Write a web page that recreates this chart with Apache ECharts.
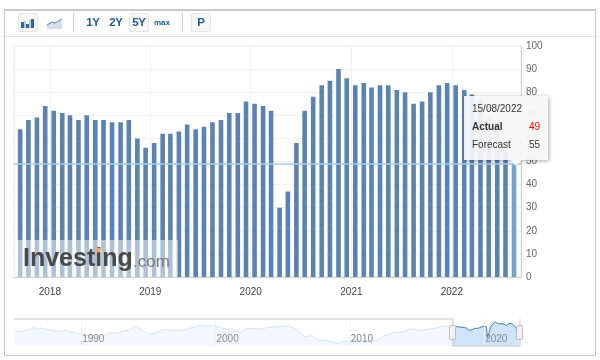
<!DOCTYPE html>
<html>
<head>
<meta charset="utf-8">
<script src="https://cdn.jsdelivr.net/npm/echarts@6/dist/echarts.min.js"></script>
<style>
html, body { margin: 0; padding: 0; background: #fff; }
.wrap { position: relative; width: 600px; height: 360px; overflow: hidden; font-family: "Liberation Sans", Arial, sans-serif; }
.frame { position: absolute; left: 4px; top: 9px; width: 590px; height: 344px; border: 1px solid #c8c8c8; border-top-width: 2px; box-sizing: content-box; }
.bar_line { position: absolute; left: 5px; top: 36px; width: 590px; height: 1px; background: #e2e2e2; }
#chart { position: absolute; left: 0; top: 0; width: 600px; height: 360px; }
.btn { position: absolute; top: 13px; height: 19px; line-height: 19px; text-align: center; color: #1f5a94; font-size: 11.5px; letter-spacing: -0.3px; font-weight: bold; box-sizing: border-box; }
.btn.on { border: 1px solid #e4e4e4; border-radius: 2px; background: #f7f7f7; line-height: 17px; }
.sep { position: absolute; top: 13px; width: 1px; height: 19px; background: #d4d4d4; }
.ico { position: absolute; }
</style>
</head>
<body>
<div class="wrap">
  <div class="frame"></div>
  <div class="bar_line"></div>
  <div id="chart"></div>
  <div class="btn on" style="left:18px;width:20px"></div>
  <svg class="ico" style="left:20px;top:17px" width="16" height="12"><path d="M1 5h3v6H1zM6 7h3v4H6zM11 2h3v9h-3z" fill="#2f6797"/><path d="M4.500 4h1v7h-1zM9.500 3h1v8h-1z" fill="#7f9fbc"/></svg>
  <svg class="ico" style="left:46px;top:17px" width="18" height="13"><path d="M1 8L6 5L9 6L16 2V12H1Z" fill="#d3deea"/><path d="M1 8L6 5L9 6L16 2" fill="none" stroke="#4f83b5" stroke-width="1"/></svg>
  <div class="sep" style="left:73px"></div>
  <div class="btn" style="left:83px;width:20px">1Y</div>
  <div class="btn" style="left:106px;width:20px">2Y</div>
  <div class="btn on" style="left:129px;width:20px">5Y</div>
  <div class="btn" style="left:152px;width:20px;font-size:8px;letter-spacing:0">max</div>
  <div class="sep" style="left:182px"></div>
  <div class="btn on" style="left:191px;width:20px">P</div>
</div>
<script>
const months = [
  '2017-09-15', '2017-10-15', '2017-11-15', '2017-12-15',
  '2018-01-15', '2018-02-15', '2018-03-15', '2018-04-15', '2018-05-15', '2018-06-15', '2018-07-15', '2018-08-15', '2018-09-15', '2018-10-15', '2018-11-15', '2018-12-15',
  '2019-01-15', '2019-02-15', '2019-03-15', '2019-04-15', '2019-05-15', '2019-06-15', '2019-07-15', '2019-08-15', '2019-09-15', '2019-10-15', '2019-11-15', '2019-12-15',
  '2020-01-15', '2020-02-15', '2020-03-15', '2020-04-15', '2020-05-15', '2020-06-15', '2020-07-15', '2020-08-15', '2020-09-15', '2020-10-15', '2020-11-15', '2020-12-15',
  '2021-01-15', '2021-02-15', '2021-03-15', '2021-04-15', '2021-05-15', '2021-06-15', '2021-07-15', '2021-08-15', '2021-09-15', '2021-10-15', '2021-11-15', '2021-12-15',
  '2022-01-15', '2022-02-15', '2022-03-15', '2022-04-15', '2022-05-15', '2022-06-15', '2022-07-15', '2022-08-15',
];
const actual = [
  64, 68, 69, 74,
  72, 71, 70, 68, 70, 68, 68, 67, 67, 68, 60, 56,
  58, 62, 62, 63, 66, 64, 65, 67, 68, 71, 71, 76,
  75, 74, 72, 30, 37, 58, 72, 78, 83, 85, 90, 86,
  83, 84, 82, 83, 83, 81, 80, 75, 76, 80, 83, 84,
  83, 81, 79, 77, 69, 67, 55, 49,
];
// navigator history, before the 5Y window
const historyDates = [
  '1985-02', '1985-06', '1985-11', '1986-03', '1986-06', '1986-10', '1987-01', '1987-06', '1987-12', '1988-05', '1988-12', '1989-04', '1989-07',
  '1989-12', '1990-05', '1991-01', '1991-10', '1992-02', '1992-10', '1993-03', '1993-08', '1994-01', '1994-08', '1995-03', '1995-09', '1996-04',
  '1996-12', '1997-09', '1998-04', '1999-01', '1999-05', '1999-10', '2000-08', '2001-04', '2001-12', '2002-04', '2002-12', '2003-05', '2004-01',
  '2005-06', '2006-01', '2006-09', '2007-03', '2007-10', '2008-04', '2009-01', '2009-09', '2010-04', '2012-01', '2012-07', '2013-04', '2014-01',
  '2014-07', '2015-03', '2016-03', '2017-03', '2017-09',
];
const historyValues = [
  58, 52, 58, 62, 68, 62, 67, 62, 56, 54, 58, 49, 52,
  44, 39, 37, 37, 48, 49, 57, 58, 74, 58, 42, 52, 62,
  58, 60, 68, 79, 74, 76, 64, 62, 49, 64, 64, 62, 70,
  74, 64, 33, 39, 21, 21, 9, 17, 21, 21, 37, 49, 52,
  64, 58, 64, 74, 64,
];
const navTicks = [1990, 2000, 2010, 2020];
const tipDate = '15/08/2022';
const tipActual = 49;
const tipForecast = 55;

const myChart = echarts.init(document.getElementById('chart'));
const YEAR = 3600 * 24 * 1000 * 365;
const lastIndex = actual.length - 1;
// '2017-09-15' -> 2017.7, the navigator runs on a plain year scale
const toYear = (d) => {
  const p = d.split('-');
  return Number(p[0]) + (Number(p[1]) - 1) / 12;
};

const barData = months.map((m, i) => ({
  value: [m, actual[i]],
  itemStyle: { color: i === lastIndex ? '#77a2cf' : '#5b83b1' },
}));

const option = {
  animation: false,
  textStyle: { fontFamily: '"Liberation Sans", Arial, sans-serif' },
  grid: [
    { left: 14, right: 79, top: 46, height: 231, show: true, borderColor: '#efefef', borderWidth: 1 },
    { left: 14, right: 80, top: 319, height: 27 },
  ],
  xAxis: [
    {
      type: 'time',
      gridIndex: 0,
      min: '2017-09-01',
      max: '2022-09-01',
      minInterval: YEAR,
      axisLine: { onZero: false, lineStyle: { color: '#cfcfcf', width: 1 } },
      axisTick: { show: false },
      axisLabel: {
        color: '#444',
        fontSize: 10,
        margin: 10,
        showMinLabel: false,
        showMaxLabel: false,
        formatter: (v) => String(new Date(v).getFullYear()),
      },
      splitLine: { show: true, lineStyle: { color: '#f0f0f0' } },
    },
    {
      type: 'value',
      gridIndex: 1,
      z: 10,
      min: 1985,
      max: 2022.67,
      axisLine: { show: false },
      axisTick: { show: false, customValues: navTicks },
      axisLabel: {
        inside: true,
        color: '#888',
        fontSize: 10,
        margin: 2,
        align: 'left',
        padding: [0, 0, 0, 1],
        customValues: navTicks,
        formatter: (v) => String(v),
      },
      splitLine: { show: true, lineStyle: { color: '#eef1f5' } },
    },
  ],
  yAxis: [
    {
      type: 'value',
      gridIndex: 0,
      position: 'right',
      min: 0,
      max: 100,
      interval: 10,
      axisLine: { show: true, lineStyle: { color: '#cfcfcf', width: 1 } },
      axisTick: { show: false },
      axisLabel: { color: '#666', fontSize: 10, margin: 5 },
      splitLine: { lineStyle: { color: '#f2f2f2' } },
    },
    { type: 'value', gridIndex: 1, min: 0, max: 100, show: false, splitLine: { show: false } },
  ],
  tooltip: {
    trigger: 'item',
    alwaysShowContent: true,
    transitionDuration: 0,
    backgroundColor: 'rgba(246,246,246,0.93)',
    borderWidth: 0,
    padding: 0,
    extraCssText: 'box-shadow:1px 1px 4px rgba(0,0,0,0.35);border-radius:0;',
    position: [464, 96],
    formatter: () => `
      <div style="position:relative;width:84px;height:64px;font-size:10px;line-height:18px;color:#333;box-sizing:border-box;padding:4px 8px;">
        <div>${tipDate}</div>
        <div style="display:flex;justify-content:space-between"><b>Actual</b><b style="color:#f00;font-weight:normal">${tipActual}</b></div>
        <div style="display:flex;justify-content:space-between"><span>Forecast</span><span>${tipForecast}</span></div>
        <div style="position:absolute;left:48px;bottom:-4px;width:8px;height:8px;background:#f6f6f6;transform:rotate(45deg)"></div>
      </div>`,
  },
  series: [
    {
      type: 'bar',
      xAxisIndex: 0,
      yAxisIndex: 0,
      barWidth: 4.6,
      data: barData,
      emphasis: { disabled: true },
      markLine: {
        silent: true,
        symbol: 'none',
        label: { show: false },
        lineStyle: { color: '#a8cdf0', width: 1.5, type: 'solid' },
        data: [{ yAxis: tipActual }],
      },
    },
    {
      type: 'line',
      xAxisIndex: 1,
      yAxisIndex: 1,
      symbol: 'none',
      silent: true,
      tooltip: { show: false },
      lineStyle: { color: '#d5e3f2', width: 1 },
      areaStyle: { color: '#f3f8fe', opacity: 1 },
      data: historyDates.map((d, i) => [toYear(d), historyValues[i]]),
    },
    {
      type: 'line',
      xAxisIndex: 1,
      yAxisIndex: 1,
      symbol: 'none',
      silent: true,
      tooltip: { show: false },
      lineStyle: { color: '#3f7cb9', width: 1 },
      areaStyle: { color: '#cfe4fb', opacity: 1 },
      data: months.map((m, i) => [toYear(m), actual[i]]),
    },
  ],
  graphic: [
    // watermark
    { type: 'rect', z: 50, shape: { x: 16, y: 240, width: 162, height: 37 }, style: { fill: 'rgba(255,255,255,0.5)' } },
    { type: 'text', z: 51, x: 23, y: 247, style: { text: 'Investing', font: 'bold 25px "Liberation Sans", Arial, sans-serif', fill: '#4a4a4a' } },
    { type: 'text', z: 51, x: 133, y: 254, style: { text: '.com', font: '17px "Liberation Sans", Arial, sans-serif', fill: '#7a7a7a' } },
    { type: 'circle', z: 52, shape: { cx: 98, cy: 250, r: 2.5 }, style: { fill: '#f0a862' } },
    // navigator outline
    { type: 'polyline', z: 40, shape: { points: [[14, 319], [453, 319], [453, 346], [520, 346], [520, 319]] }, style: { fill: 'none', stroke: '#c4c4c4', lineWidth: 1 } },
    { type: 'rect', z: 41, shape: { x: 449.5, y: 325.5, width: 6, height: 14, r: 1 }, style: { fill: '#f2f2f2', stroke: '#bbb', lineWidth: 1 } },
    { type: 'rect', z: 41, shape: { x: 516.5, y: 325.5, width: 6, height: 14, r: 1 }, style: { fill: '#f2f2f2', stroke: '#bbb', lineWidth: 1 } },
  ],
};

myChart.setOption(option);
myChart.dispatchAction({ type: 'showTip', seriesIndex: 0, dataIndex: lastIndex });
</script>
</body>
</html>
